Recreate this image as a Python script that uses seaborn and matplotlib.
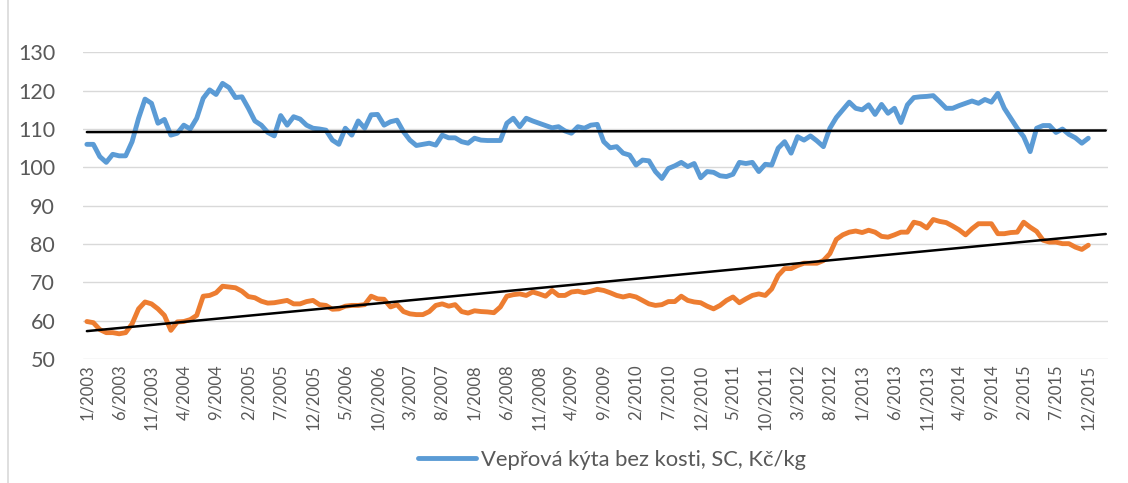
import numpy as np
import pandas as pd
import matplotlib
matplotlib.use("Agg")
import matplotlib.pyplot as plt
import seaborn as sns

# ---- data ----
years = list(range(2003, 2016))
categories = [f"{m}/{y}" for y in years for m in range(1, 13)]

blue_values = [
    106, 106, 102.8, 101.3, 103.4, 103, 103, 106.7, 112.8, 117.8,
    116.7, 111.5, 112.5, 108.4, 108.9, 111, 110, 112.8, 118, 120.2,
    119, 121.9, 120.8, 118.2, 118.4, 115.4, 112.1, 111, 109.1, 108.2,
    113.5, 111, 113.2, 112.6, 111, 110.2, 110, 109.7, 107.1, 106,
    110.2, 108.4, 112.1, 110.2, 113.7, 113.8, 111, 111.9, 112.3, 109.3,
    107.1, 105.7, 106, 106.3, 105.8, 108.4, 107.7, 107.7, 106.7, 106.3,
    107.6, 107.1, 107, 107, 107, 111.5, 112.8, 110.6, 112.8, 112.1,
    111.5, 110.9, 110.3, 110.6, 109.5, 108.9, 110.6, 110.2, 111, 111.2,
    106.7, 105.1, 105.4, 103.7, 103.2, 100.6, 101.9, 101.7, 98.9, 97.1,
    99.7, 100.4, 101.3, 100.2, 101, 97.3, 98.9, 98.7, 97.8, 97.6,
    98.2, 101.3, 101, 101.3, 98.9, 100.8, 100.6, 105, 106.7, 103.7,
    108, 107.1, 108.2, 106.9, 105.4, 110.2, 113, 115, 117, 115.4,
    115, 116.3, 113.8, 116.4, 114.1, 115.4, 111.7, 116.3, 118.2, 118.4,
    118.5, 118.7, 117.1, 115.4, 115.4, 116.1, 116.7, 117.3, 116.7, 117.7,
    117, 119.3, 115.4, 112.8, 110.2, 108, 104.1, 110.2, 110.9, 110.9,
    109.1, 110, 108.6, 107.7, 106.3, 107.6,
]

orange_values = [
    59.8, 59.5, 57.7, 56.9, 56.9, 56.6, 56.9, 59.2, 63.1, 64.9,
    64.4, 63.1, 61.4, 57.5, 59.7, 59.8, 60.3, 61.4, 66.4, 66.6,
    67.3, 69, 68.8, 68.6, 67.7, 66.3, 66, 65.1, 64.6, 64.7,
    65, 65.3, 64.4, 64.4, 65, 65.3, 64.2, 64, 63, 63.1,
    63.8, 64, 64, 64.2, 66.4, 65.7, 65.6, 63.6, 64.2, 62.4,
    61.8, 61.6, 61.6, 62.4, 64, 64.4, 63.8, 64.2, 62.4, 62,
    62.6, 62.4, 62.3, 62.1, 63.6, 66.4, 66.8, 67, 66.6, 67.5,
    67, 66.4, 67.9, 66.6, 66.6, 67.5, 67.7, 67.3, 67.7, 68.2,
    67.9, 67.3, 66.6, 66.2, 66.6, 66.2, 65.3, 64.4, 64, 64.2,
    65, 65, 66.4, 65.3, 64.9, 64.7, 63.8, 63.1, 64, 65.3,
    66.2, 64.7, 65.7, 66.6, 67, 66.6, 68.3, 71.8, 73.6, 73.6,
    74.4, 75, 75, 75, 75.7, 77.5, 81.2, 82.4, 83.1, 83.4,
    83, 83.6, 83.1, 82, 81.8, 82.4, 83.1, 83.1, 85.7, 85.3,
    84.2, 86.4, 85.9, 85.6, 84.7, 83.7, 82.4, 84, 85.3, 85.3,
    85.3, 82.7, 82.7, 83, 83.1, 85.7, 84.4, 83.3, 81, 80.5,
    80.5, 80.1, 80.1, 79.2, 78.6, 79.7,
]

legend_label = "Vepřová kýta bez kosti, SC, Kč/kg"
y_ticks = [50, 60, 70, 80, 90, 100, 110, 120, 130]

# ---- styling ----
sns.set_theme(style="white")
plt.rcParams["font.family"] = ["Lato", "DejaVu Sans"]

BLUE = "#5B9BD5"
ORANGE = "#ED7D31"
GRID = "#D9D9D9"
TEXT = "#595959"

df = pd.DataFrame({
    "idx": np.arange(len(categories)),
    "blue": blue_values,
    "orange": orange_values,
})

fig = plt.figure(figsize=(11.28, 4.83), dpi=100)
ax = fig.add_axes([83 / 1128, 1 - 359.1 / 483, (1108 - 83) / 1128, (359.1 - 52.3) / 483])

for yv in y_ticks:
    ax.axhline(yv, color=GRID, lw=1.0, zorder=0)

sns.lineplot(data=df, x="idx", y="blue", ax=ax, color=BLUE, lw=3.5,
             label=legend_label, zorder=3, solid_capstyle="round")
sns.lineplot(data=df, x="idx", y="orange", ax=ax, color=ORANGE, lw=3.5,
             label="_nolegend_", zorder=3, solid_capstyle="round")

# linear trend lines (with short forward forecast)
t = np.array([0, 157.7])
for vals in (blue_values, orange_values):
    k, q = np.polyfit(df["idx"], vals, 1)
    ax.plot(t, k * t + q, color="black", lw=1.8, zorder=4)

ax.set_xlim(-0.6, 158.05)
ax.set_ylim(50, 130)
ax.set_yticks(y_ticks)
ax.set_yticklabels([str(v) for v in y_ticks], fontsize=15.5, color=TEXT)
tick_pos = list(range(0, len(categories), 5))
ax.set_xticks(tick_pos)
ax.set_xticklabels([categories[i] for i in tick_pos], rotation=90,
                   fontsize=12, color=TEXT)
ax.tick_params(axis="y", length=0, pad=20)
ax.tick_params(axis="x", length=0, pad=4)
ax.set_xlabel("")
ax.set_ylabel("")
for s in ax.spines.values():
    s.set_visible(False)

leg = ax.legend(loc="center", bbox_to_anchor=(612 / 1128, 1 - 460 / 483),
                bbox_transform=fig.transFigure, frameon=False, fontsize=15.8,
                handlelength=2.65, handletextpad=0.2, borderaxespad=0)
for txt in leg.get_texts():
    txt.set_color(TEXT)

# chart border (left edge visible)
fig.add_artist(plt.Line2D([8 / 1128, 8 / 1128], [0, 1], transform=fig.transFigure,
                          color=GRID, lw=1.2))

fig.savefig("out.png", dpi=100)
